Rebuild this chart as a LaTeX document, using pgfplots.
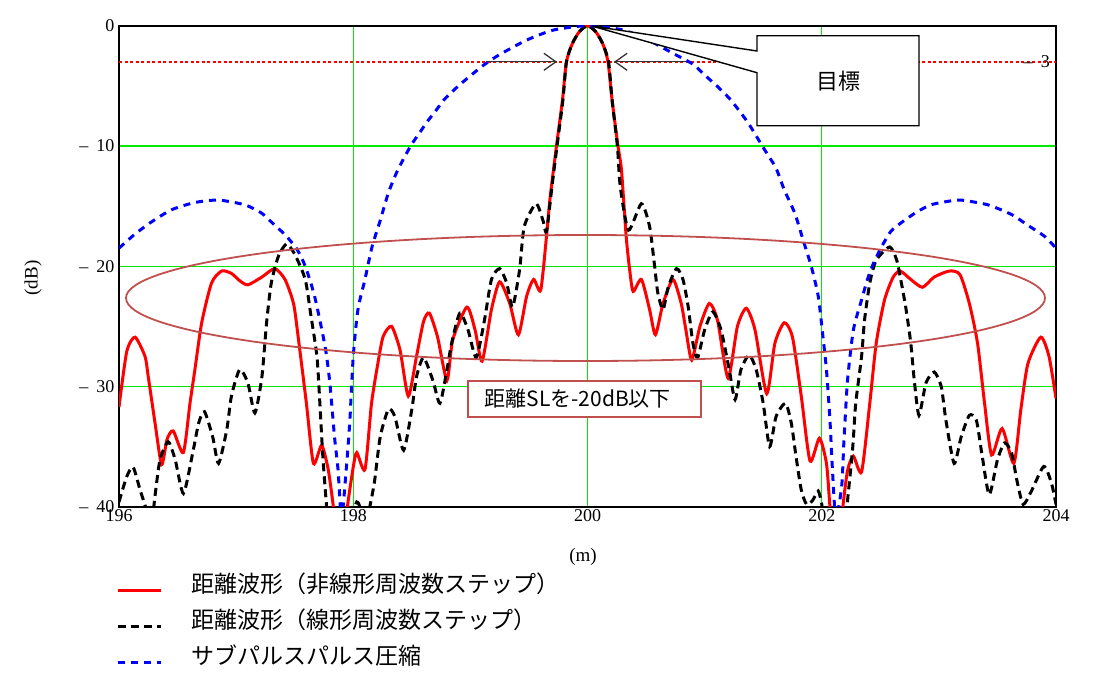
\documentclass[border=0pt]{standalone}
\usepackage{fontspec}
\usepackage{pgfplots}
\pgfplotsset{compat=1.18}
\usetikzlibrary{arrows.meta}
\newfontfamily\jp{Noto Sans CJK JP}
\newfontfamily\ser{Liberation Serif}
\definecolor{ell}{RGB}{192,80,77}
\definecolor{grd}{RGB}{0,235,0}
\begin{document}
\begin{tikzpicture}
\useasboundingbox (0pt,0pt) rectangle (1099pt,-683pt);
\begin{axis}[
  at={(119pt,-506.7pt)}, anchor=south west,
  scale only axis, width=937pt, height=481pt,
  xmin=196, xmax=204, ymin=-40, ymax=0,
  xtick={196,198,200,202,204},
  ytick={-40,-30,-20,-10,0},
  yticklabels={{\textendash\hspace{0.45em}40},{\textendash\hspace{0.45em}30},{\textendash\hspace{0.45em}20},{\textendash\hspace{0.45em}10},{0}},
  xticklabels={196,198,200,202,204},
  /pgf/number format/assume math mode=true,
  grid=major,
  major grid style={draw=grd, line width=1.2pt},
  major tick length=0pt,
  axis line style={line width=1.6pt},
  tick label style={font=\ser\fontsize{18}{20}\selectfont},
  yticklabel style={xshift=-1pt},
  xticklabel style={yshift=1pt},
  legend style={at={(axis description cs:-0.003,-0.141)}, anchor=north west, draw=none, fill=none,
    font=\jp\fontsize{23}{27}\selectfont, row sep=13pt, column sep=29pt, inner sep=0pt,
    nodes={inner sep=0pt, text height=18pt, text depth=5pt}},
  legend cell align=left,
  legend image code/.code={\draw[#1] (0pt,-4.5pt) -- (43pt,-4.5pt);},
]
\addplot[draw=red, color=red, line width=1.5pt, dash pattern=on 3pt off 2.5pt, forget plot] coordinates {(196,-3) (204,-3)};

\addplot[red, line width=3pt, smooth, tension=0.4] coordinates {
(196.00,-31.7) (196.066,-27.1) (196.137,-25.9) (196.222,-27.5) (196.25,-29.2) (196.307,-33.0)
(196.364,-36.5) (196.41,-34.4) (196.463,-33.7) (196.549,-35.5) (196.606,-31.4) (196.648,-28.6)
(196.706,-24.7) (196.79,-21.4) (196.876,-20.4) (196.96,-20.6) (197.03,-21.2) (197.10,-21.55)
(197.22,-20.9) (197.33,-20.2) (197.417,-21.1) (197.49,-23.1) (197.53,-25.9) (197.60,-31.4)
(197.66,-36.4) (197.73,-34.9) (197.786,-36.9) (197.83,-40) (197.86,-43) (197.92,-43)
(197.95,-40) (198.0,-36.7) (198.03,-35.5) (198.10,-36.9) (198.156,-31.4) (198.21,-28.1)
(198.255,-25.85) (198.327,-25.0) (198.40,-27.0) (198.47,-30.8) (198.54,-27.5) (198.60,-24.6)
(198.65,-23.9) (198.72,-25.9) (198.80,-29.5) (198.85,-26.1) (198.97,-23.4) (199.04,-25.3)
(199.10,-27.9) (199.18,-23.6) (199.25,-21.3) (199.336,-23.1) (199.41,-25.7) (199.48,-22.5)
(199.54,-21.1) (199.60,-22.0) (199.65,-17.5) (199.68,-14.35) (199.735,-10) (199.786,-6.2)
(199.82,-3) (199.87,-1.5) (199.93,-0.5) (200.00,0) (200.07,-0.5) (200.13,-1.5) (200.175,-3)
(200.21,-6.2) (200.26,-10) (200.29,-12.0) (200.33,-17.5) (200.36,-20.3) (200.39,-22.1)
(200.46,-21.1) (200.53,-23.6) (200.58,-25.7) (200.645,-23.1) (200.73,-21.1) (200.80,-23.1)
(200.84,-25.3) (200.89,-27.8) (200.96,-25.0) (201.04,-23.1) (201.11,-24.5) (201.20,-29.3)
(201.28,-25.0) (201.356,-23.5) (201.43,-25.3) (201.53,-30.6) (201.60,-26.4) (201.68,-24.7)
(201.75,-25.9) (201.825,-30.8) (201.90,-36.2) (201.98,-34.3) (202.04,-36.4) (202.07,-40)
(202.10,-43) (202.15,-43) (202.18,-40) (202.22,-37) (202.27,-35.8) (202.34,-37.1)
(202.41,-31.4) (202.465,-26.4) (202.536,-22.8) (202.61,-20.9) (202.67,-20.4) (202.76,-21.1)
(202.86,-21.75) (202.96,-20.9) (203.09,-20.4) (203.18,-20.7) (203.26,-23.1) (203.33,-26.4)
(203.39,-31.4) (203.45,-35.7) (203.54,-33.5) (203.64,-36.4) (203.70,-31.9) (203.76,-28.1)
(203.87,-25.9) (203.94,-27.5) (204.00,-31.0)
};
\addlegendentry{距離波形（非線形周波数ステップ）}

\addplot[black, line width=3pt, dash pattern=on 8pt off 5pt, smooth, tension=0.4] coordinates {
(196.00,-39.6) (196.066,-37.5) (196.12,-36.7) (196.18,-38.6) (196.22,-39.8) (196.26,-41)
(196.29,-40.5) (196.31,-38.9) (196.35,-36.1) (196.42,-34.6) (196.48,-36.1) (196.55,-38.9)
(196.63,-35.5) (196.68,-33.05) (196.73,-32.1) (196.80,-34.2) (196.85,-36.4) (196.92,-33.6)
(196.96,-30.8) (197.03,-28.6) (197.10,-29.7) (197.16,-32.2) (197.22,-29.2) (197.26,-24.7)
(197.30,-21.4) (197.36,-19.2) (197.43,-18.15) (197.50,-19.0) (197.59,-21.1) (197.64,-24.2)
(197.69,-27.5) (197.715,-31.4) (197.74,-35.8) (197.77,-39.7) (197.80,-43) (197.95,-42)
(198.03,-39.6) (198.08,-40.6) (198.13,-40.4) (198.18,-38.0) (198.23,-34.2) (198.30,-31.9)
(198.355,-32.5) (198.43,-35.3) (198.50,-31.9) (198.54,-29.2) (198.60,-27.6) (198.68,-29.5)
(198.74,-31.4) (198.80,-28.6) (198.84,-26.4) (198.91,-23.9) (198.98,-25.3) (199.05,-27.6)
(199.12,-24.5) (199.18,-21.1) (199.25,-20.2) (199.31,-21.4) (199.36,-23.4) (199.42,-20.3)
(199.46,-16.7) (199.56,-14.8) (199.62,-16.2) (199.65,-17.1) (199.70,-13.1) (199.74,-10)
(199.79,-6.2) (199.82,-3) (199.87,-1.5) (199.93,-0.5) (200.00,0) (200.07,-0.5) (200.13,-1.5)
(200.18,-3) (200.21,-6.2) (200.255,-10) (200.28,-13.4) (200.35,-17.0) (200.46,-14.8)
(200.53,-16.7) (200.57,-19.75) (200.60,-22.2) (200.645,-23.6) (200.69,-21.7) (200.76,-20.2)
(200.815,-21.1) (200.86,-23.4) (200.90,-26.4) (200.94,-27.6) (201.00,-25.3) (201.07,-23.8)
(201.14,-25.3) (201.21,-28.6) (201.26,-31.1) (201.31,-28.6) (201.38,-27.4) (201.44,-28.6)
(201.50,-31.4) (201.555,-35.0) (201.61,-32.5) (201.69,-31.4) (201.74,-33.05) (201.78,-35.8)
(201.825,-38.6) (201.87,-39.8) (201.92,-39.5) (201.97,-38.7) (202.00,-39.8) (202.03,-41.5)
(202.19,-41.5) (202.225,-39) (202.265,-35.0) (202.29,-31.4) (202.34,-27.5) (202.365,-24.5)
(202.41,-21.4) (202.465,-19.5) (202.58,-18.4) (202.64,-19.5) (202.68,-21.4) (202.72,-23.6)
(202.76,-26.4) (202.79,-29.5) (202.83,-32.4) (202.89,-29.7) (202.96,-28.8) (203.02,-30.0)
(203.06,-32.8) (203.13,-36.4) (203.19,-34.2) (203.26,-32.4) (203.32,-32.8) (203.37,-35.8)
(203.43,-39.0) (203.50,-36.1) (203.56,-34.7) (203.62,-35.5) (203.67,-38.0) (203.72,-39.8)
(203.79,-38.7) (203.895,-36.65) (203.96,-38.0) (204.00,-39.8)
};
\addlegendentry{距離波形（線形周波数ステップ）}

\addplot[blue, line width=3pt, dash pattern=on 7pt off 6pt, smooth, tension=0.4] coordinates {
(196.00,-18.5) (196.14,-17.3) (196.28,-16.3) (196.45,-15.3) (196.65,-14.7) (196.85,-14.5)
(197.075,-14.9) (197.22,-15.6) (197.33,-16.6) (197.42,-17.4) (197.52,-18.6) (197.59,-20.0)
(197.67,-22.5) (197.76,-26.7) (197.80,-29.7) (197.84,-34.2) (197.87,-36.9) (197.90,-41)
(197.94,-36.9) (197.97,-33.0) (198.00,-27.5) (198.04,-23.6) (198.10,-21.1) (198.16,-18.4)
(198.23,-16.2) (198.30,-13.9) (198.38,-12.0) (198.49,-10) (198.56,-9) (198.63,-8)
(198.71,-7) (198.78,-6.1) (198.91,-4.9) (199.11,-3.3) (199.25,-2.4) (199.48,-1.2)
(199.71,-0.36) (200.00,0) (200.30,-0.35) (200.52,-1.2) (200.73,-2.3) (200.90,-3.2)
(201.00,-4.1) (201.11,-5.06) (201.21,-6.03) (201.29,-7.0) (201.37,-8.06) (201.43,-9.0)
(201.49,-9.97) (201.55,-10.9) (201.61,-11.85) (201.68,-13.65) (201.77,-15.6) (201.84,-17.8)
(201.91,-20.0) (201.97,-22.5) (202.01,-25.85) (202.04,-28.6) (202.07,-32.8) (202.09,-36.7)
(202.12,-41) (202.17,-38.3) (202.19,-34.4) (202.22,-29.5) (202.27,-25.3) (202.34,-22.8)
(202.39,-21.1) (202.44,-19.8) (202.51,-18.4) (202.59,-17.1) (202.69,-16.3) (202.81,-15.5)
(202.93,-14.9) (203.08,-14.6) (203.19,-14.5) (203.42,-14.9) (203.62,-15.7) (203.76,-16.6)
(203.90,-17.5) (204.00,-18.5)
};
\addlegendentry{サブパルスパルス圧縮}
\end{axis}

\begin{scope}[x=1pt,y=-1pt]
\draw[black!80, line width=1.3pt, -{Straight Barb[length=12pt,width=17pt]}] (487,61.8) -- (557,61.8);
\draw[black!80, line width=1.3pt, -{Straight Barb[length=12pt,width=17pt]}] (686,61.8) -- (614,61.8);
\draw[line width=1.4pt, fill=white, line join=miter] (757,35.7) -- (919,35.7) -- (919,125.7) -- (757,125.7) -- (757,72.7) -- (591.7,26) -- (757,51) -- cycle;
\node[font=\jp\fontsize{22}{26}\selectfont] at (838,80.7) {目標};
\draw[ell, line width=1.8pt] (585.5,298) ellipse [x radius=459.5, y radius=63];
\draw[ell, line width=1.6pt, fill=white] (468,381) rectangle (701,417);
\node[font=\jp\fontsize{21}{25}\selectfont, anchor=west] at (481,399) {距離SLを-20dB以下};
\node[font=\ser\fontsize{18}{20}\selectfont, anchor=east, inner sep=0pt] at (1050,62) {\textendash\hspace{0.45em}3};
\node[rotate=90, font=\ser\fontsize{19}{22}\selectfont] at (33,278) {(dB)};
\node[font=\ser\fontsize{19}{22}\selectfont] at (583,557) {(m)};
\end{scope}
\end{tikzpicture}
\end{document}
